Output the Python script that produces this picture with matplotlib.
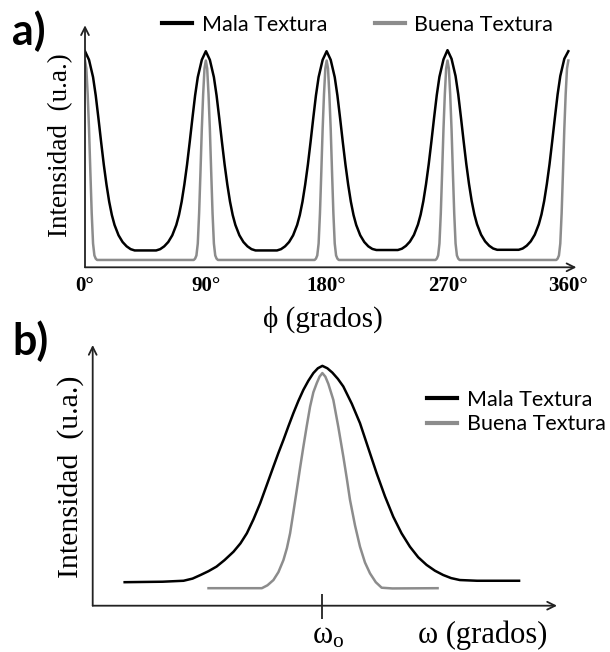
import matplotlib
matplotlib.use("Agg")
import matplotlib.pyplot as plt
from matplotlib.transforms import ScaledTranslation

plt.rcParams['mathtext.fontset'] = 'custom'
plt.rcParams['mathtext.rm'] = 'Liberation Serif'
plt.rcParams['mathtext.it'] = 'Liberation Serif:italic'

SERIF = ['Liberation Serif', 'DejaVu Serif']
SANS = ['Lato', 'DejaVu Sans']
GRAY = '#8c8c8c'
AXC = '#222222'

# ---- panel a: intensidad vs phi (grados) ----
phi_mala = [0, 3, 6, 8, 10, 12, 14, 16, 18, 20, 22, 25, 28, 31, 34, 37,
            53, 56, 59, 62, 65, 68, 70, 72, 74, 76, 78, 80, 82, 84, 87,
            90, 93, 96, 98, 100, 102, 104, 106, 108, 110, 112, 115, 118, 121, 124, 127,
            143, 146, 149, 152, 155, 158, 160, 162, 164, 166, 168, 170, 172, 174, 177,
            180, 183, 186, 188, 190, 192, 194, 196, 198, 200, 202, 205, 208, 211, 214, 217,
            233, 236, 239, 242, 245, 248, 250, 252, 254, 256, 258, 260, 262, 264, 267,
            270, 273, 276, 278, 280, 282, 284, 286, 288, 290, 292, 295, 298, 301, 304, 307,
            323, 326, 329, 332, 335, 338, 340, 342, 344, 346, 348, 350, 352, 354, 357,
            360]
int_mala = [1.00, 0.96, 0.88, 0.795, 0.69, 0.58, 0.475, 0.383, 0.304, 0.242, 0.196, 0.148, 0.117, 0.097, 0.084, 0.078,
            0.078, 0.084, 0.097, 0.117, 0.148, 0.196, 0.242, 0.304, 0.383, 0.475, 0.58, 0.69, 0.795, 0.88, 0.96,
            1.00, 0.96, 0.88, 0.795, 0.69, 0.58, 0.475, 0.383, 0.304, 0.242, 0.196, 0.148, 0.117, 0.097, 0.084, 0.078,
            0.078, 0.084, 0.097, 0.117, 0.148, 0.196, 0.242, 0.304, 0.383, 0.475, 0.58, 0.69, 0.795, 0.88, 0.96,
            1.00, 0.96, 0.88, 0.795, 0.69, 0.58, 0.475, 0.383, 0.304, 0.242, 0.196, 0.148, 0.117, 0.097, 0.085, 0.080,
            0.080, 0.086, 0.099, 0.119, 0.150, 0.198, 0.244, 0.306, 0.385, 0.477, 0.582, 0.692, 0.797, 0.882, 0.962,
            1.005, 0.965, 0.885, 0.80, 0.694, 0.584, 0.478, 0.386, 0.307, 0.245, 0.199, 0.151, 0.12, 0.10, 0.087, 0.081,
            0.081, 0.087, 0.10, 0.12, 0.151, 0.199, 0.245, 0.307, 0.386, 0.478, 0.584, 0.694, 0.80, 0.885, 0.965,
            1.00]

phi_buena = [0, 1, 2, 3, 4, 5, 6, 7, 8, 9, 81, 82, 83, 84, 85, 86, 87, 88, 89,
             90, 91, 92, 93, 94, 95, 96, 97, 98, 99, 171, 172, 173, 174, 175, 176, 177, 178, 179,
             180, 181, 182, 183, 184, 185, 186, 187, 188, 189, 261, 262, 263, 264, 265, 266, 267, 268, 269,
             270, 271, 272, 273, 274, 275, 276, 277, 278, 279, 351, 352, 353, 354, 355, 356, 357, 358, 359,
             360]
int_buena = [0.957, 0.92, 0.80, 0.64, 0.44, 0.25, 0.11, 0.055, 0.04, 0.034,
             0.034, 0.04, 0.055, 0.11, 0.25, 0.44, 0.64, 0.80, 0.92,
             0.957, 0.92, 0.80, 0.64, 0.44, 0.25, 0.11, 0.055, 0.04, 0.034,
             0.034, 0.04, 0.055, 0.11, 0.25, 0.44, 0.64, 0.80, 0.92,
             0.957, 0.92, 0.80, 0.64, 0.44, 0.25, 0.11, 0.055, 0.04, 0.034,
             0.034, 0.04, 0.055, 0.11, 0.25, 0.44, 0.64, 0.80, 0.92,
             0.957, 0.92, 0.80, 0.64, 0.44, 0.25, 0.11, 0.055, 0.04, 0.034,
             0.034, 0.04, 0.055, 0.11, 0.25, 0.44, 0.64, 0.80, 0.92,
             0.957]

phi_ticks = [0, 90, 180, 270, 360]
phi_labels = ['0°', '90°', '180°', '270°', '360°']

# ---- panel b: intensidad vs omega ----
w_mala = [-19.8, -16.0, -13.9, -13.0, -12.2, -11.4, -10.6, -9.8, -8.9, -8.2, -7.56, -6.9, -6.23,
          -5.55, -4.9, -4.4, -3.9, -3.4, -2.9, -2.4, -1.9, -1.4, -0.9, -0.45, 0.0,
          0.5, 1.0, 1.55, 2.1, 2.95, 3.77, 4.6, 5.44, 6.27, 7.1, 7.93, 8.77, 9.6, 10.44,
          11.27, 12.1, 12.9, 13.77, 15.5, 19.7]
int_w_mala = [0.098, 0.100, 0.104, 0.113, 0.128, 0.144, 0.163, 0.19, 0.225, 0.26, 0.302, 0.36, 0.427,
              0.505, 0.58, 0.637, 0.691, 0.748, 0.803, 0.854, 0.90, 0.938, 0.97, 0.99, 1.0,
              0.99, 0.972, 0.946, 0.914, 0.842, 0.761, 0.657, 0.552, 0.456, 0.371, 0.302, 0.246, 0.202, 0.17,
              0.146, 0.128, 0.115, 0.107, 0.104, 0.104]
w_buena = [-11.4, -6.06, -5.5, -4.9, -4.4, -3.9, -3.55, -3.23, -2.9, -2.56, -2.23, -1.9, -1.56,
           -1.23, -0.9, -0.56, -0.28, 0.0, 0.3, 0.6, 1.1, 1.6, 2.1, 2.45, 2.77, 3.27, 3.77,
           4.27, 4.77, 5.35, 5.94, 7.0, 11.54]
int_w_buena = [0.073, 0.073, 0.085, 0.107, 0.14, 0.19, 0.24, 0.302, 0.39, 0.483, 0.575, 0.663, 0.75,
               0.83, 0.89, 0.928, 0.955, 0.97, 0.955, 0.925, 0.858, 0.745, 0.622, 0.53, 0.441, 0.335, 0.246,
               0.18, 0.135, 0.098, 0.075, 0.072, 0.073]

W, H = 610, 652
fig = plt.figure(figsize=(W / 100, H / 100), dpi=100)


def px_axes(left, top, right, bottom):
    return fig.add_axes([left / W, 1 - bottom / H, (right - left) / W, (bottom - top) / H])


def arrows(ax):
    for spine in ax.spines.values():
        spine.set_visible(False)
    props = dict(arrowstyle='->', lw=1.3, color=AXC, shrinkA=0, shrinkB=0, mutation_scale=14)
    ax.annotate('', xy=(1, 0), xytext=(0, 0), xycoords='axes fraction', arrowprops=props)
    ax.annotate('', xy=(0, 1), xytext=(0, 0), xycoords='axes fraction', arrowprops=props)
    ax.set_yticks([])


# panel a
ax_a = px_axes(85, 25.3, 576.4, 267.3)
ax_a.set_xlim(0, 366)
ax_a.set_ylim(0, 1.12)
arrows(ax_a)
ax_a.plot(phi_mala, int_mala, color='black', lw=1.8, label='Mala Textura')
ax_a.plot(phi_buena, int_buena, color=GRAY, lw=1.8, label='Buena Textura')
ax_a.set_xticks(phi_ticks)
ax_a.set_xticklabels(phi_labels, family=SERIF, fontweight='bold', fontsize=15)
ax_a.tick_params(axis='x', length=0, pad=6)
ax_a.text(0.4843, -0.213, 'ϕ (grados)', transform=ax_a.transAxes, family=SERIF,
          fontsize=21, ha='center', va='center')
ax_a.text(-0.0244, 0.505, 'Intensidad  (u.a.)', transform=ax_a.transAxes, family=SERIF,
          fontsize=19.5, rotation=90, ha='right', va='center')
leg_a = ax_a.legend(loc='center left', bbox_to_anchor=(162 / W, 1 - 25 / H),
                    bbox_transform=fig.transFigure, ncol=2, frameon=False,
                    prop={'family': SANS, 'size': 15.5}, handlelength=1.4,
                    handletextpad=0.45, columnspacing=2.2, borderpad=0, borderaxespad=0)
for ln in leg_a.get_lines():
    ln.set_linewidth(3)
fig.text(12 / W, 1 - 10 / H, 'a)', family=SANS, fontweight='bold', fontsize=31,
         ha='left', va='top')

# panel b
ax_b = px_axes(92.7, 345, 557, 605.7)
ax_b.set_xlim(-23, 23.5)
ax_b.set_ylim(0, 1.087)
arrows(ax_b)
ax_b.plot(w_mala, int_w_mala, color='black', lw=1.8, label='Mala Textura')
ax_b.plot(w_buena, int_w_buena, color=GRAY, lw=1.8, label='Buena Textura')
ax_b.set_xticks([0])
ax_b.set_xticklabels([r'$\mathrm{\omega}_{\mathrm{o}}$'], fontsize=22)
ax_b.tick_params(axis='x', direction='inout', length=18, width=1.3, color=AXC, pad=2)
for lbl in ax_b.get_xticklabels():
    lbl.set_transform(lbl.get_transform() + ScaledTranslation(0.06, 0, fig.dpi_scale_trans))
ax_b.text(0.8395, -0.114, 'ω (grados)', transform=ax_b.transAxes, family=SERIF,
          fontsize=22, ha='center', va='center')
ax_b.text(-0.0187, 0.4955, 'Intensidad  (u.a.)', transform=ax_b.transAxes, family=SERIF,
          fontsize=21.5, rotation=90, ha='right', va='center')
leg_b = ax_b.legend(loc='center left', bbox_to_anchor=(427 / W, 1 - 412 / H),
                    bbox_transform=fig.transFigure, frameon=False,
                    prop={'family': SANS, 'size': 15.5}, handlelength=1.4,
                    handletextpad=0.45, labelspacing=0.2, borderpad=0, borderaxespad=0)
for ln in leg_b.get_lines():
    ln.set_linewidth(3)
fig.text(12 / W, 1 - 320 / H, 'b)', family=SANS, fontweight='bold', fontsize=31,
         ha='left', va='top')

fig.savefig('out.png', dpi=100)
